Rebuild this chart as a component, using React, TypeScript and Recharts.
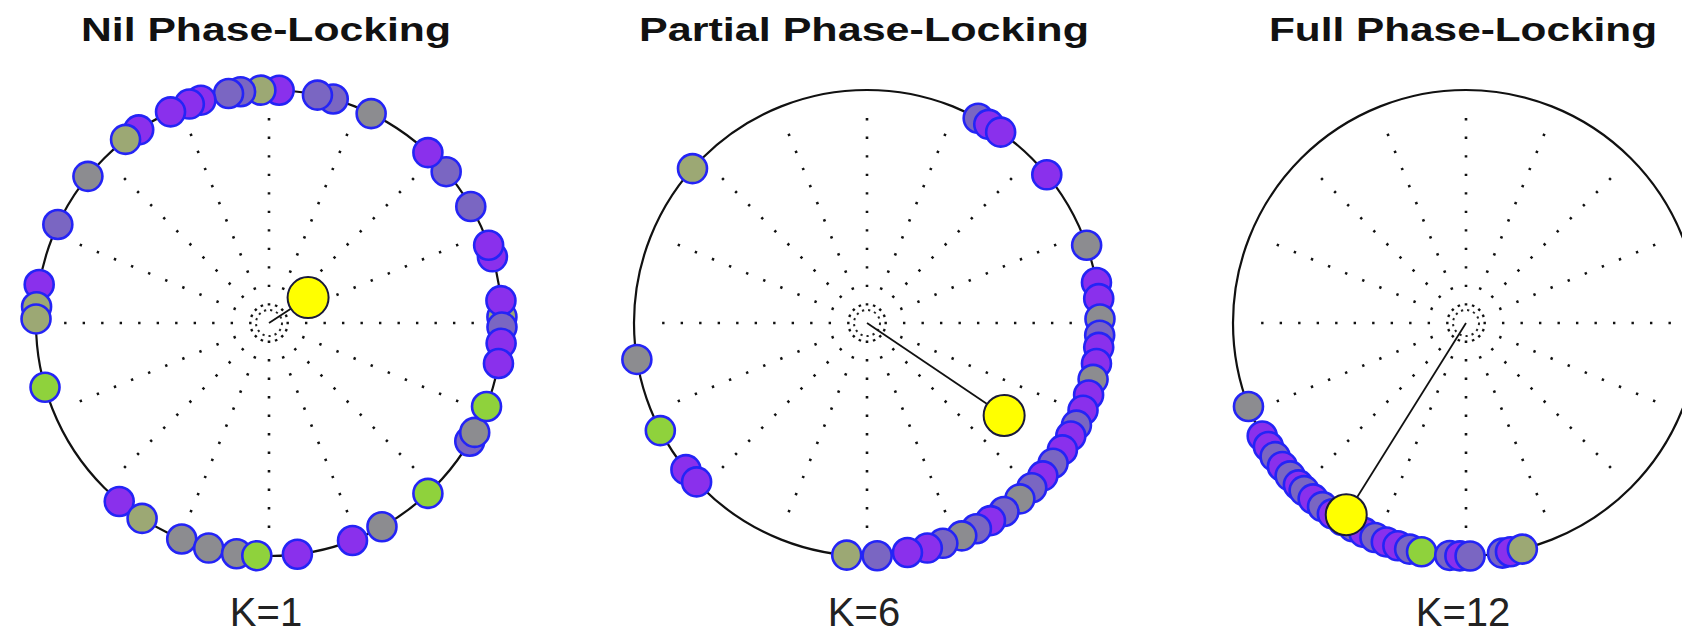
import React from "react";
import { ScatterChart, Scatter, XAxis, YAxis, ReferenceLine, ReferenceDot } from "recharts";

// phase of each spike in degrees (0 = right, counter-clockwise) and its colour class
type Phase = [number, string];

const titles = ["Nil Phase-Locking", "Partial Phase-Locking", "Full Phase-Locking"];
const kLabels = ["K=1", "K=6", "K=12"];

const nilPhases: Phase[] = [
  [1.5, "O"], [5.5, "P"], [-1, "V"], [-5, "P"], [-10, "P"], [16.5, "P"], [19.5, "P"], [30, "V"],
  [40.5, "V"], [47, "P"], [64, "G"], [74, "V"], [78, "V"], [87.5, "P"], [92, "O"], [97, "V"],
  [100, "V"], [107, "P"], [110, "P"], [115, "P"], [124, "P"], [128, "O"], [141, "G"], [155, "V"],
  [170.5, "P"], [176, "O"], [179, "O"], [196, "L"], [230, "P"], [237, "O"], [248, "G"], [255, "G"],
  [262, "G"], [267, "L"], [277, "P"], [291, "P"], [299, "G"], [313, "L"], [329.5, "V"], [332, "G"],
  [339, "L"],
];

const partialPhases: Phase[] = [
  [61.5, "V"], [58.5, "P"], [55, "P"], [39.5, "P"], [19.5, "G"], [10, "P"], [6, "P"], [1, "G"],
  [-3, "V"], [-6, "P"], [-10, "P"], [-14, "G"], [-18, "P"], [-22, "P"], [-26, "V"], [-29, "P"],
  [-33, "P"], [-37, "V"], [-41, "P"], [-45, "V"], [-49, "G"], [-54, "V"], [-58, "P"], [-62, "V"],
  [-66, "G"], [-71, "V"], [-75, "P"], [-80, "P"], [-87.5, "V"], [-95, "O"], [138.5, "O"], [189, "G"],
  [207.5, "L"], [219, "P"], [223, "P"],
];

const fullPhases: Phase[] = [
  [201, "G"], [209, "P"], [212, "P"], [215, "V"], [218, "P"], [221, "V"], [224, "P"], [226, "V"],
  [229, "P"], [232, "V"], [235, "P"], [238, "P"], [241, "V"], [244, "P"], [247, "V"], [250, "P"],
  [253, "P"], [256, "V"], [259, "L"], [266, "V"], [268.5, "P"], [271, "V"], [279, "V"], [281, "P"],
  [284, "O"],
];

// mean phase vector per panel
const meanAngles = [33, -34, 238];
const meanLengths = [0.2, 0.71, 0.97];

const spokeAngles = [0, 22.5, 45, 67.5, 90, 112.5, 135, 157.5, 180, 202.5, 225, 247.5, 270, 292.5, 315, 337.5];

const colors: Record<string, string> = {
  P: "#8a30ec",
  V: "#7a66c2",
  G: "#8c8c90",
  O: "#9ca874",
  L: "#8fd23c",
};
const OUTLINE = "#2424f6";

const centersX = [269, 867, 1466];
const CY = 323;
const R = 233;
const W = 560;
const H = 520;

const rad = (d: number) => (d * Math.PI) / 180;

function Panel({ phases, meanAngle, meanLength }: { phases: Phase[]; meanAngle: number; meanLength: number }) {
  const pts = phases.map(([d, c]) => ({ x: Math.cos(rad(d)), y: Math.sin(rad(d)), fill: colors[c] }));
  const mean = [{ x: meanLength * Math.cos(rad(meanAngle)), y: meanLength * Math.sin(rad(meanAngle)) }];
  const vector = [{ x: 0, y: 0 }, mean[0]];
  const mx = (W - 2 * R) / 2;
  const my = (H - 2 * R) / 2;

  return (
    <ScatterChart width={W} height={H} margin={{ top: my, bottom: my, left: mx, right: mx }}>
      <XAxis type="number" dataKey="x" domain={[-1, 1]} hide />
      <YAxis type="number" dataKey="y" domain={[-1, 1]} hide />
      {spokeAngles.map((a) => (
        <ReferenceLine
          key={a}
          segment={[
            { x: 0.075 * Math.cos(rad(a)), y: 0.075 * Math.sin(rad(a)) },
            { x: 0.92 * Math.cos(rad(a)), y: 0.92 * Math.sin(rad(a)) },
          ]}
          stroke="#111"
          strokeWidth={2.6}
          strokeDasharray="2.4 16.1"
          ifOverflow="visible"
        />
      ))}
      <ReferenceDot x={0} y={0} r={13} fill="none" stroke="#222" strokeWidth={2} strokeDasharray="2.2 4" />
      <ReferenceDot x={0} y={0} r={R} fill="none" stroke="#111" strokeWidth={2.2} />
      <Scatter
        data={vector}
        line={{ stroke: "#111", strokeWidth: 1.8 }}
        shape={() => <g />}
        isAnimationActive={false}
      />
      <Scatter
        data={pts}
        isAnimationActive={false}
        shape={(p: any) => (
          <circle cx={p.cx} cy={p.cy} r={14.5} fill={p.payload.fill} stroke={OUTLINE} strokeWidth={2.6} />
        )}
      />
      <Scatter
        data={mean}
        isAnimationActive={false}
        shape={(p: any) => <circle cx={p.cx} cy={p.cy} r={20.5} fill="#ffff00" stroke="#1a1a3a" strokeWidth={2} />}
      />
    </ScatterChart>
  );
}

const allPhases = [nilPhases, partialPhases, fullPhases];
const titleWidths = [370, 450, 388];

export default function App() {
  return (
    <div
      style={{
        position: "fixed",
        left: 0,
        top: 0,
        width: 1682,
        height: 635,
        overflow: "hidden",
        background: "#fff",
      }}
    >
      {allPhases.map((ph, i) => (
        <div key={i} style={{ position: "absolute", left: centersX[i] - W / 2, top: CY - H / 2 }}>
          <Panel phases={ph} meanAngle={meanAngles[i]} meanLength={meanLengths[i]} />
        </div>
      ))}
      <svg width={1682} height={635} style={{ position: "absolute", left: 0, top: 0, pointerEvents: "none" }}>
        {titles.map((t, i) => (
          <text
            key={t}
            x={centersX[i] - 3}
            y={41}
            textAnchor="middle"
            fontFamily="'Liberation Sans', Arial, sans-serif"
            fontWeight="bold"
            fontSize={34}
            textLength={titleWidths[i]}
            lengthAdjust="spacingAndGlyphs"
            fill="#111"
          >
            {t}
          </text>
        ))}
        {kLabels.map((k, i) => (
          <text
            key={k}
            x={centersX[i] - 3}
            y={626}
            textAnchor="middle"
            fontFamily="'Liberation Sans', Arial, sans-serif"
            fontSize={40}
            fill="#222"
          >
            {k}
          </text>
        ))}
      </svg>
    </div>
  );
}
